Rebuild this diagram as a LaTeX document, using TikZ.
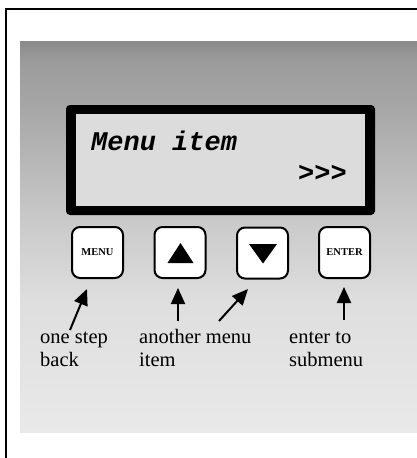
\documentclass[tikz,border=0pt]{standalone}
\usepackage{fontspec}
\setmainfont{Liberation Serif}
\setmonofont{Liberation Mono}
\usetikzlibrary{arrows.meta}
\definecolor{ga}{gray}{0.541}
\definecolor{gb}{gray}{0.608}
\definecolor{gc}{gray}{0.651}
\definecolor{gd}{gray}{0.784}
\definecolor{ge}{gray}{0.871}
\definecolor{gf}{gray}{0.914}
\definecolor{lcd}{gray}{0.863}
\tikzset{
  btn/.style={draw=black, line width=2pt, fill=white, rounded corners=8pt,
    minimum width=51pt, minimum height=51pt, inner sep=0pt},
  btntext/.style={font=\fontsize{10.5pt}{12pt}\selectfont\bfseries},
  lbl/.style={font=\fontsize{20.5pt}{23pt}\selectfont, anchor=base west, inner sep=0pt},
  lcdtext/.style={font=\fontsize{27pt}{30pt}\selectfont\ttfamily\bfseries\itshape, inner sep=0pt},
  pointer/.style={line width=2pt, -{Triangle[length=16pt,width=14pt]}},
}
\begin{document}
\begin{tikzpicture}[x=1pt,y=-1pt]
\useasboundingbox (0,0) rectangle (417,458);
% gradient panel
\shade[top color=ga, bottom color=gb] (20,41) rectangle (417,60.5);
\shade[top color=gb, bottom color=gc] (20,60) rectangle (417,105.5);
\shade[top color=gc, bottom color=gd] (20,105) rectangle (417,215.5);
\shade[top color=gd, bottom color=ge] (20,215) rectangle (417,300.5);
\shade[top color=ge, bottom color=gf] (20,300) rectangle (417,432);
% outer frame
\draw[line width=2.5pt] (6,458) -- (6,9) -- (417,9);
% LCD
\fill[black, rounded corners=4pt] (66,105) rectangle (375,215);
\fill[lcd] (76,114) rectangle (365,206);
\node[lcdtext, anchor=base west] (item) at (91,150) {Menu item};
\node[lcdtext, anchor=base east] (more) at (347,181) {>>>};
% buttons
\node[btn] (menu) at (97.5,252.5) {};
\node[btntext] (menut) at (menu.center) {MENU};
\node[btn] (up) at (180,252.5) {};
\fill (167.5,263) -- (193.5,263) -- (180.5,243) -- cycle;
\node[btn] (down) at (262.5,253) {};
\fill (249,244) -- (277,244) -- (263,263.5) -- cycle;
\node[btn] (enter) at (344.5,252.5) {};
\node[btntext] (entert) at (enter.center) {ENTER};
% labels
\node[lbl] (l1a) at (40,343) {one step};
\node[lbl] (l1b) at (40,366) {back};
\node[lbl] (l2a) at (139,343) {another menu};
\node[lbl] (l2b) at (139,366) {item};
\node[lbl] (l3a) at (289,343) {enter to};
\node[lbl] (l3b) at (289,366) {submenu};
% pointer coordinates
\coordinate (t1) at (70,330);
\coordinate (h1) at (87,289);
\coordinate (t2) at (178,321);
\coordinate (h2) at (178,288);
\coordinate (t3) at (219,321);
\coordinate (h3) at (248,289);
\coordinate (t4) at (344,320);
\coordinate (h4) at (344,287);
\draw[pointer] (t1) -- (h1);
\draw[pointer] (t2) -- (h2);
\draw[pointer] (t3) -- (h3);
\draw[pointer] (t4) -- (h4);
\end{tikzpicture}
\end{document}
